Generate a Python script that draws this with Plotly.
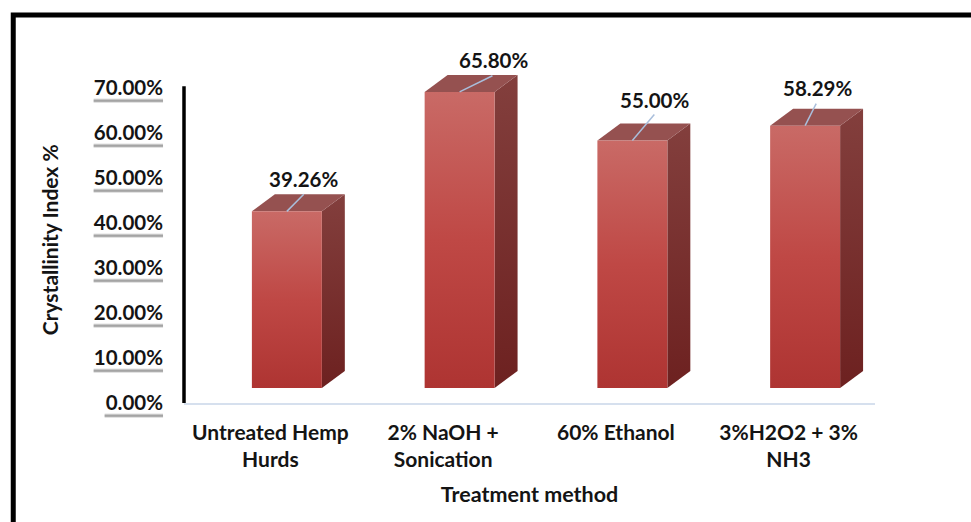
import plotly.graph_objects as go

# Chart data
categories = ["Untreated Hemp<br>Hurds", "2% NaOH +<br>Sonication", "60% Ethanol", "3%H2O2 + 3%<br>NH3"]
crystallinity = [39.26, 65.80, 55.00, 58.29]
y_ticks = [0, 10, 20, 30, 40, 50, 60, 70]
y_tick_labels = ["0.00%", "10.00%", "20.00%", "30.00%", "40.00%", "50.00%", "60.00%", "70.00%"]

# Pseudo-3D geometry, in axis units
FRONT_LEFT, FRONT_RIGHT = -0.107, 0.298
DEPTH_X, DEPTH_Y = 0.133, 3.78
FLOOR = 3.33

# Value label placement relative to each category and bar top
label_dx = [0.194, 0.292, 0.222, 0.165]
label_dy = [7.1, 7.1, 9.1, 8.4]
leader_dx = [0.098, 0.19, 0.127, 0.064]
leader_dy = [3.8, 3.6, 5.8, 4.9]

FONT = "Lato"
TEXT = "#141414"

# Plot area in pixels, used for items placed outside it
PLOT_W, PLOT_H = 692, 360
Y_MAX = 80

FRONT_RAMP = [[0, "#c96a66"], [0.5, "#bf4845"], [1, "#ae3432"]]
SIDE_RAMP = [[0, "#833f3d"], [1, "#6d2120"]]

fig = go.Figure()


def face(xs, ys, color):
    fig.add_trace(go.Scatter(x=xs, y=ys, mode="lines", fill="toself", fillcolor=color,
                             line=dict(width=0), hoverinfo="skip", showlegend=False, cliponaxis=False))


def gradient_face(xs, ys, ramp):
    fig.add_trace(go.Scatter(
        x=xs, y=ys, mode="lines", fill="toself",
        fillgradient=dict(type="vertical", start=max(ys), stop=min(ys), colorscale=ramp),
        line=dict(width=0), hoverinfo="skip", showlegend=False, cliponaxis=False))


for i, value in enumerate(crystallinity):
    left, right = i + FRONT_LEFT, i + FRONT_RIGHT
    top = FLOOR + value
    gradient_face([right, right + DEPTH_X, right + DEPTH_X, right, right],
                  [FLOOR, FLOOR + DEPTH_Y, top + DEPTH_Y, top, FLOOR], SIDE_RAMP)
    face([left, right, right + DEPTH_X, left + DEPTH_X, left],
         [top, top, top + DEPTH_Y, top + DEPTH_Y, top], "#955150")
    gradient_face([left, right, right, left, left],
                  [FLOOR, FLOOR, top, top, FLOOR], FRONT_RAMP)
    # Leader line from the bar up to its value label
    mid = (left + right) / 2
    fig.add_trace(go.Scatter(x=[mid, mid + leader_dx[i]], y=[top, top + leader_dy[i]], mode="lines",
                             line=dict(color="#a9bedb", width=1.5), hoverinfo="skip",
                             showlegend=False, cliponaxis=False))
    fig.add_annotation(x=i + label_dx[i], y=top + label_dy[i], text=f"{value:.2f}%",
                       showarrow=False, xanchor="center", yanchor="middle",
                       font=dict(family=FONT, size=20.5, color=TEXT, weight="bold"))

# Soft grey bars under the value-axis labels
for tick in y_ticks:
    x_left = -79.5 if tick == 0 else -90.5
    for offset, alpha in [(11, 0.18), (12, 0.55), (13, 0.75), (14, 0.35)]:
        y_pos = tick / Y_MAX - offset / PLOT_H
        fig.add_shape(type="line", xref="paper", yref="paper",
                      x0=x_left / PLOT_W, x1=-21 / PLOT_W, y0=y_pos, y1=y_pos,
                      line=dict(color=f"rgba(90,90,90,{alpha})", width=1))

# Heavy value-axis rule, stopping at the top tick
fig.add_shape(type="line", xref="paper", yref="y", x0=0, x1=0, y0=-0.2, y1=70.4,
              line=dict(color="black", width=3.5))

# Outer frame, running past the right and bottom of the page
fig.add_shape(type="rect", xref="paper", yref="paper",
              x0=-171 / PLOT_W, x1=1.2, y0=1 + 28 / PLOT_H, y1=-1,
              line=dict(color="black", width=5), fillcolor="rgba(0,0,0,0)", layer="below")

fig.add_annotation(xref="paper", yref="paper", x=-135 / PLOT_W, y=(403 - 240) / PLOT_H,
                   text="Crystallinity Index %", textangle=-90, showarrow=False,
                   xanchor="center", yanchor="middle",
                   font=dict(family=FONT, size=21, color=TEXT, weight="bold"))

fig.update_layout(
    width=971, height=522, autosize=False,
    margin=dict(l=183.5, r=95.5, t=43, b=119),
    paper_bgcolor="white", plot_bgcolor="white", showlegend=False,
    xaxis=dict(
        range=[-0.5, 3.5], tickmode="array", tickvals=list(range(len(categories))), ticktext=categories,
        showgrid=False, zeroline=False, showline=True, linecolor="#d6e0ee", linewidth=1.5,
        ticks="", ticklabelstandoff=10, tickfont=dict(family=FONT, size=21, color=TEXT, weight="bold"),
        title=dict(text="Treatment method", standoff=17,
                   font=dict(family=FONT, size=21.5, color=TEXT, weight="bold")),
    ),
    yaxis=dict(
        range=[0, Y_MAX], tickmode="array", tickvals=y_ticks, ticktext=y_tick_labels,
        showgrid=False, zeroline=False, showline=False,
        ticks="", ticklabelstandoff=20, tickfont=dict(family=FONT, size=20.5, color=TEXT, weight="bold"),
    ),
)

fig.write_html("out.html")
